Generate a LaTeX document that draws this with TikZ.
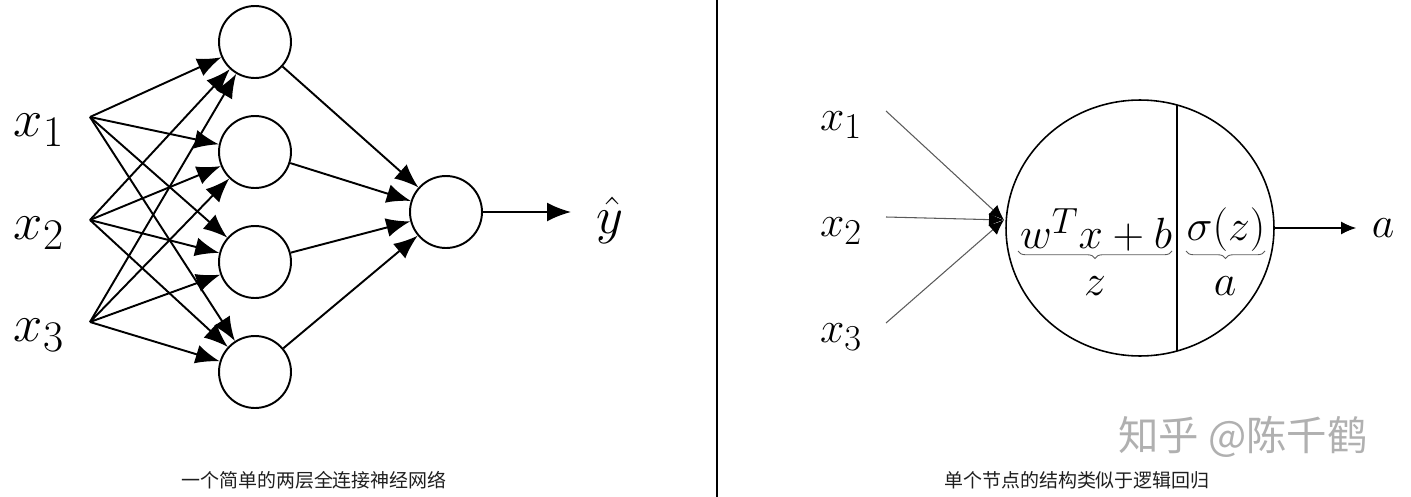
\documentclass[tikz,border=0pt]{standalone}
\usepackage{amsmath}
\usepackage{fontspec}
\newfontfamily\cjk{Noto Sans CJK SC}
\usepackage{tikz}
\usetikzlibrary{arrows.meta,shapes.geometric,decorations.pathreplacing}
\definecolor{wmgray}{RGB}{176,176,176}
\definecolor{capgray}{RGB}{30,30,30}
\definecolor{thingray}{RGB}{90,90,90}

\begin{document}
\begin{tikzpicture}[x=0.02cm,y=-0.02cm,
    neuron/.style={circle,draw,line width=1.1pt,minimum size=1.44cm,inner sep=0pt},
    net/.style={line width=1.1pt,-{Latex[length=0.48cm,width=0.38cm]}},
    thin net/.style={thingray,line width=0.6pt,-{Latex[length=0.3cm,width=0.26cm,color=black]}},
    big/.style={font=\Huge,scale=1.2},
    mid/.style={font=\Huge,scale=1.0},
    caption/.style={font=\cjk\fontsize{10.8}{13}\selectfont,text=capgray}]
    \useasboundingbox (0,0) rectangle (1411,497);
    % left: two-layer network
    \foreach \i/\y in {1/117,2/220,3/322}{%
       \coordinate (in\i) at (90,\y);
       \node[big] (lx\i) at (39,\y+13) {$x_\i$};
    }
    \foreach \j/\y in {1/42,2/152,3/262,4/372}
       \node[neuron] (h\j) at (255,\y) {};
    \node[neuron] (out) at (446,212) {};
    \foreach \i in {1,2,3}
       \foreach \j in {1,...,4}
          \draw[net] (in\i) -- (h\j);
    \foreach \j in {1,...,4}
       \draw[net] (h\j) -- (out);
    \coordinate (yend) at (571,212);
    \draw[net] (out) -- (yend);
    \node[big] (yhat) at (610,220) {$\hat{y}$};
    \node[caption] (cap1) at (314,480) {一个简单的两层全连接神经网络};
    % divider
    \draw[line width=1.7pt] (717,0) -- (717,497);
    % right: one unit
    \node[ellipse,draw,line width=0.9pt,minimum width=5.36cm,minimum height=5.12cm,inner sep=0pt] (unit) at (1140,228) {};
    \draw[line width=0.9pt] (1177,105) -- (1177,351);
    \coordinate (merge) at (1004,220);
    \foreach \i/\y in {1/111,2/217,3/323}{%
       \coordinate (rin\i) at (886,\y);
       \node[mid] (rx\i) at (841,\y+14) {$x_\i$};
       \draw[thin net] (rin\i) -- (merge);
    }
    \node[mid] (lin) at (1096,230) {$w^Tx+b$};
    \node[mid] (act) at (1226,230) {$\sigma(z)$};
    \draw[thingray,line width=0.5pt,decorate,decoration={brace,mirror,amplitude=0.15cm}] (1018,251) -- (1172,251);
    \draw[thingray,line width=0.5pt,decorate,decoration={brace,mirror,amplitude=0.15cm}] (1186,251) -- (1265,251);
    \node[mid] (zlab) at (1095,286) {$z$};
    \node[mid] (alab) at (1225,286) {$a$};
    \coordinate (aend) at (1356,228);
    \draw[thin net,black] (unit.east) -- (aend);
    \node[mid] (aout) at (1383,228) {$a$};
    \node[caption] (cap2) at (1077,480) {单个节点的结构类似于逻辑回归};
    \node[font=\cjk\fontsize{23}{28}\selectfont,text=wmgray] (mark) at (1243,437) {知乎 @陈千鹤};
\end{tikzpicture}
\end{document}
